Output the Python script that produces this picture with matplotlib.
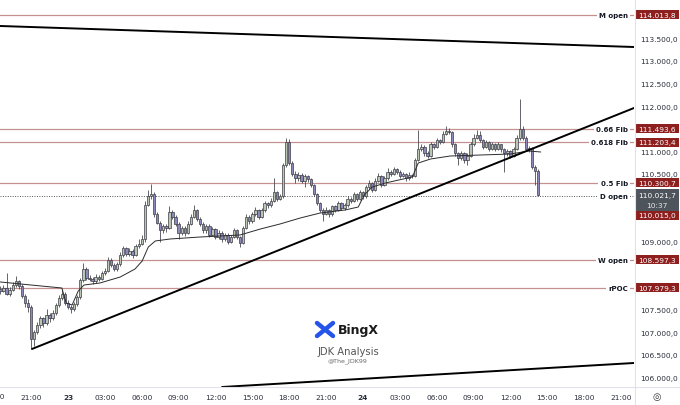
import matplotlib
matplotlib.use("Agg")

import numpy as np
import pandas as pd
import matplotlib.pyplot as plt
from matplotlib.patches import Rectangle
from matplotlib.transforms import blended_transform_factory

plt.rcParams['font.family'] = ['DejaVu Sans']

# 15 min candles, 22 jul 18:30 -> 24 jul 14:15
first_open = 107950
closes = [107900, 107980, 107850, 107940, 108050, 108120, 108020, 107800, 107650, 107560,
          106850, 107000, 107150, 107300, 107200, 107380, 107300, 107420, 107600, 107750,
          107850, 107650, 107560, 107500, 107620, 107780, 108150, 108400, 108200, 108180,
          108120, 108220, 108180, 108300, 108350, 108600, 108480, 108400, 108500, 108700,
          108850, 108720, 108800, 108700, 108900, 108950, 109050, 109820, 110000, 110050,
          109600, 109420, 109250, 109350, 109300, 109650, 109550, 109400, 109200, 109300,
          109200, 109400, 109550, 109700, 109500, 109400, 109250, 109350, 109150, 109280,
          109100, 109200, 109050, 109150, 109000, 109100, 109250, 109100, 108980, 109300,
          109550, 109450, 109600, 109700, 109550, 109700, 109850, 109800, 109900, 110100,
          109950, 110000, 110700, 111200, 110750, 110500, 110400, 110480, 110350, 110450,
          110380, 110250, 110050, 109850, 109700, 109620, 109700, 109600, 109780, 109700,
          109850, 109750, 109800, 109950, 109900, 110050, 109950, 110100, 110000, 110200,
          110300, 110150, 110350, 110450, 110250, 110400, 110550, 110500, 110600, 110550,
          110450, 110500, 110400, 110480, 110450, 110800, 111050, 111100, 110950, 110900,
          111150, 111100, 111250, 111200, 111380, 111450, 111420, 111150, 110950, 110850,
          110950, 110800, 110900, 111150, 111300, 111350, 111250, 111100, 111200, 111050,
          111150, 111050, 111150, 111050, 110950, 111000, 110900, 111050, 111300, 111500,
          111300, 111050, 111080, 110650, 110560, 110021.7]
highs = [108020, 108050, 108300, 107990, 108100, 108250, 108160, 108060, 107840, 107720,
         107600, 107050, 107220, 107360, 107340, 107500, 107420, 107480, 107650, 107820,
         107950, 107880, 107700, 107600, 107660, 107820, 108200, 108520, 108430, 108260,
         108220, 108280, 108260, 108350, 108420, 108660, 108640, 108520, 108550, 108760,
         108900, 108880, 108850, 108830, 108950, 109050, 109150, 109900, 110150, 110280,
         110100, 109650, 109460, 109400, 109380, 109780, 109700, 109580, 109430, 109350,
         109340, 109450, 109600, 109800, 109730, 109540, 109430, 109400, 109380, 109330,
         109300, 109260, 109230, 109200, 109180, 109150, 109300, 109270, 109130, 109350,
         109620, 109580, 109650, 109760, 109720, 109750, 109900, 109880, 109960, 110400,
         110130, 110060, 110750, 111300, 111280, 110780, 110560, 110540, 110520, 110500,
         110480, 110400, 110280, 110080, 109880, 109740, 109760, 109730, 109820, 109800,
         109890, 109870, 109850, 110000, 109980, 110100, 110070, 110150, 110130, 110250,
         110360, 110320, 110400, 110520, 110470, 110450, 110620, 110580, 110650, 110630,
         110580, 110540, 110520, 110530, 110500, 110850, 111480, 111150, 111130, 111000,
         111200, 111180, 111300, 111280, 111450, 111550, 111520, 111440, 111180, 110980,
         111000, 110980, 110950, 111200, 111380, 111480, 111450, 111280, 111250, 111230,
         111200, 111180, 111200, 111170, 111080, 111050, 111030, 111100, 111350, 112150,
         111550, 111330, 111120, 111100, 110700, 110600]
lows = [107850, 107880, 107820, 107800, 107900, 108000, 107960, 107760, 107560, 107450,
        106650, 106700, 106950, 107080, 107120, 107160, 107230, 107260, 107380, 107560,
        107700, 107600, 107500, 107430, 107460, 107580, 107740, 108100, 108150, 108120,
        108060, 108090, 108130, 108150, 108260, 108320, 108430, 108340, 108360, 108470,
        108650, 108680, 108690, 108640, 108680, 108860, 108920, 109000, 109780, 109950,
        109550, 109380, 109000, 109200, 109220, 109280, 109500, 109350, 109050, 109150,
        109130, 109170, 109370, 109520, 109450, 109350, 109200, 109200, 109100, 109120,
        109050, 109060, 109000, 109010, 108950, 108960, 109080, 109050, 108880, 108950,
        109270, 109400, 109420, 109560, 109500, 109520, 109660, 109740, 109770, 109870,
        109900, 109920, 109970, 110650, 110700, 110450, 110300, 110350, 110300, 110200,
        110320, 110200, 110000, 109800, 109650, 109450, 109580, 109550, 109570, 109650,
        109680, 109700, 109700, 109770, 109850, 109870, 109900, 109920, 109950, 109970,
        110170, 110100, 110120, 110320, 110200, 110220, 110370, 110450, 110470, 110500,
        110400, 110420, 110350, 110370, 110400, 110430, 110780, 111000, 110900, 110850,
        110880, 111050, 111080, 111150, 111180, 111350, 111380, 111100, 110900, 110700,
        110800, 110750, 110700, 110880, 111120, 111280, 111200, 111050, 111070, 111000,
        111020, 111000, 111020, 110980, 110550, 110900, 110850, 110880, 111020, 111250,
        111250, 111000, 110980, 110600, 110250, 110000]

# session vwap (knots)
vwap_times = ["2025-07-22 18:30", "2025-07-22 21:00", "2025-07-22 23:30", "2025-07-22 23:51",
              "2025-07-23 00:20", "2025-07-23 00:50", "2025-07-23 01:18", "2025-07-23 02:36",
              "2025-07-23 04:15", "2025-07-23 05:27", "2025-07-23 06:02", "2025-07-23 06:32",
              "2025-07-23 07:06", "2025-07-23 08:18", "2025-07-23 10:45", "2025-07-23 14:00",
              "2025-07-23 15:39", "2025-07-23 17:15", "2025-07-23 18:54", "2025-07-23 20:31",
              "2025-07-23 22:33", "2025-07-23 23:37", "2025-07-24 00:06", "2025-07-24 00:45",
              "2025-07-24 01:49", "2025-07-24 04:01", "2025-07-24 04:30", "2025-07-24 05:30",
              "2025-07-24 07:06", "2025-07-24 09:33", "2025-07-24 12:00", "2025-07-24 13:28",
              "2025-07-24 14:27"]
vwap_prices = [108107, 108040, 107974, 107642, 107598, 107908, 108040, 108085,
               108217, 108394, 108571, 108881, 109014, 109058, 109102, 109147,
               109279, 109390, 109523, 109633, 109700, 109766, 110031, 110208,
               110297, 110430, 110739, 110828, 110894, 110916, 110938, 111005,
               110983]

level_names = ["M open", "0.66 Fib", "0.618 Fib", "0.5 Fib", "W open", "rPOC"]
level_prices = [114013.8, 111493.6, 111203.4, 110300.7, 108597.3, 107979.3]
d_open = 110015.0
last_price = 110021.7
countdown = "10:37"

# price scale labels not hidden behind the tags
price_ticks = [106000, 106500, 107000, 107500, 109000, 110500, 111000,
               112000, 112500, 113000, 113500]

# trend lines: (start time, start price, end time, end price)
trend_lines = [
    ("2025-07-22 18:28", 113770, "2025-07-24 22:03", 113305),
    ("2025-07-22 21:04", 106625, "2025-07-24 22:03", 111956),
    ("2025-07-23 12:32", 105784, "2025-07-24 22:03", 106315),
]

base = pd.Timestamp("2025-07-22 00:00")
def hrs(ts):
    return (pd.to_datetime(ts) - base) / pd.Timedelta(hours=1)

def fmt(v):
    s = f"{v:,.1f}"
    return s.replace(",", " ").replace(".", ",").replace(" ", ".")

times = pd.date_range("2025-07-22 18:30", periods=len(closes), freq="15min")
t = np.asarray(hrs(times))
c = np.array(closes, dtype=float)
o = np.concatenate([[first_open], c[:-1]])
h = np.maximum(np.array(highs, dtype=float), np.maximum(o, c))
l = np.minimum(np.array(lows, dtype=float), np.minimum(o, c))

W, H = 680, 406
fig = plt.figure(figsize=(6.8, 4.06), dpi=100)
ax = fig.add_axes([0, 18 / H, 634 / W, 388 / H])
ymin, ymax = 105784, 114367
ax.set_xlim(hrs("2025-07-22 18:28"), hrs("2025-07-24 22:03"))
ax.set_ylim(ymin, ymax)
for s in ax.spines.values():
    s.set_visible(False)

# frame lines
fig.add_artist(plt.Line2D([634.5 / W, 634.5 / W], [0, 1], color="#e0e3eb", lw=0.8))
fig.add_artist(plt.Line2D([0, 1], [1 - 388 / H, 1 - 388 / H], color="#e0e3eb", lw=0.8))

# horizontal levels
lvl_tr = blended_transform_factory(ax.transAxes, ax.transData)
for name, p in zip(level_names, level_prices):
    ax.axhline(p, color="#c49090", lw=0.9, zorder=1)
    ax.text(0.9905, p, name, transform=lvl_tr, ha="right", va="center", fontsize=5,
            fontweight="bold", color="#131722", zorder=6,
            bbox=dict(boxstyle="square,pad=0.35", fc="white", ec="none"))
ax.axhline(d_open, color="#555555", lw=0.7, ls=(0, (1, 1.5)), zorder=1)
ax.text(0.9905, d_open, "D open", transform=lvl_tr, ha="right", va="center", fontsize=5,
        fontweight="bold", color="#131722", zorder=6,
        bbox=dict(boxstyle="square,pad=0.35", fc="white", ec="none"))

# candles
up = c >= o
body_w = 0.19
ax.vlines(t, l, h, color="#4a4a52", lw=0.6, zorder=3)
ax.bar(t[up], (c - o)[up], bottom=o[up], width=body_w, color="#b9c6b6",
       edgecolor="#3d3d45", linewidth=0.5, zorder=4)
ax.bar(t[~up], (o - c)[~up], bottom=c[~up], width=body_w, color="#8d89bd",
       edgecolor="#3d3d45", linewidth=0.5, zorder=4)

# vwap
ax.plot(np.asarray(hrs(pd.Series(vwap_times))), vwap_prices, color="#2b2b2b", lw=0.7, zorder=5)

# trend lines
for t0, p0, t1, p1 in trend_lines:
    ax.plot([hrs(t0), hrs(t1)], [p0, p1], color="black", lw=1.4, zorder=6,
            solid_capstyle="round")

# axes ticks
xt = list(range(21, 70, 3))
ax.set_xticks(xt)
ax.set_xticklabels([str(22 + x // 24) if x % 24 == 0 else f"{x % 24:02d}:00" for x in xt])
for lab, x in zip(ax.get_xticklabels(), xt):
    if x % 24 == 0:
        lab.set_fontweight("bold")
ax.tick_params(axis="x", length=0, pad=5, labelsize=5.3, labelcolor="#2a2e39")
ax.text(18, -0.0232, "18:00", transform=blended_transform_factory(ax.transData, ax.transAxes),
        ha="center", va="center", fontsize=5.3, color="#2a2e39", clip_on=False)

ax.yaxis.tick_right()
ax.set_yticks(price_ticks)
ax.set_yticklabels([fmt(v) for v in price_ticks])
ax.tick_params(axis="y", length=0, pad=4.3, labelsize=5.3, labelcolor="#2a2e39")

# price tags on the right scale
dpp = (ymax - ymin) / 388.0
tag_tr = blended_transform_factory(fig.transFigure, ax.transData)
def tag(p, text, fc, hpx=9, top_px=4.5):
    ax.add_patch(Rectangle((635 / W, p - (hpx - top_px) * dpp), 44 / W, hpx * dpp,
                           transform=tag_tr, fc=fc, ec="none", clip_on=False, zorder=10))
    ax.text(657 / W, p, text, transform=tag_tr, ha="center", va="center", fontsize=5.3,
            color="white", zorder=11, clip_on=False)

for p in level_prices:
    tag(p, fmt(p), "#8e1f1f")
tag(last_price, fmt(last_price), "#4e545c", hpx=22, top_px=6.5)
ax.text(657 / W, last_price - 9.5 * dpp, countdown, transform=tag_tr, ha="center",
        va="center", fontsize=5.3, color="#e6e6e6", zorder=11, clip_on=False)
d_tag_y = last_price - 20 * dpp
ax.add_patch(Rectangle((635 / W, d_tag_y - 4.5 * dpp), 44 / W, 9 * dpp, transform=tag_tr,
                       fc="#8e1f1f", ec="none", clip_on=False, zorder=10))
ax.text(657 / W, d_tag_y, fmt(d_open), transform=tag_tr, ha="center", va="center",
        fontsize=5.3, color="white", zorder=11, clip_on=False)

# settings icon
fig.text(657 / W, 1 - 397 / H, "\u25ce", ha="center", va="center", fontsize=7, color="#3a3a3a")

# watermark
def fx(x):
    return x / W
def fy(y):
    return 1 - y / H
fig.add_artist(plt.Line2D([fx(317), fx(333)], [fy(324), fy(337)], color="#2454e8", lw=3.2,
                          solid_capstyle="round"))
fig.add_artist(plt.Line2D([fx(317), fx(333)], [fy(337), fy(324)], color="#2454e8", lw=3.2,
                          solid_capstyle="round"))
fig.text(fx(338), fy(331), "BingX", ha="left", va="center", fontsize=9, fontweight="bold",
         color="#1a1a1a")
fig.text(fx(348), fy(352), "JDK Analysis", ha="center", va="center", fontsize=7.2,
         color="#555555")
fig.text(fx(348), fy(361), "@The_JDK99", ha="center", va="center", fontsize=4.5,
         color="#666666")

fig.savefig("out.png", dpi=100)
